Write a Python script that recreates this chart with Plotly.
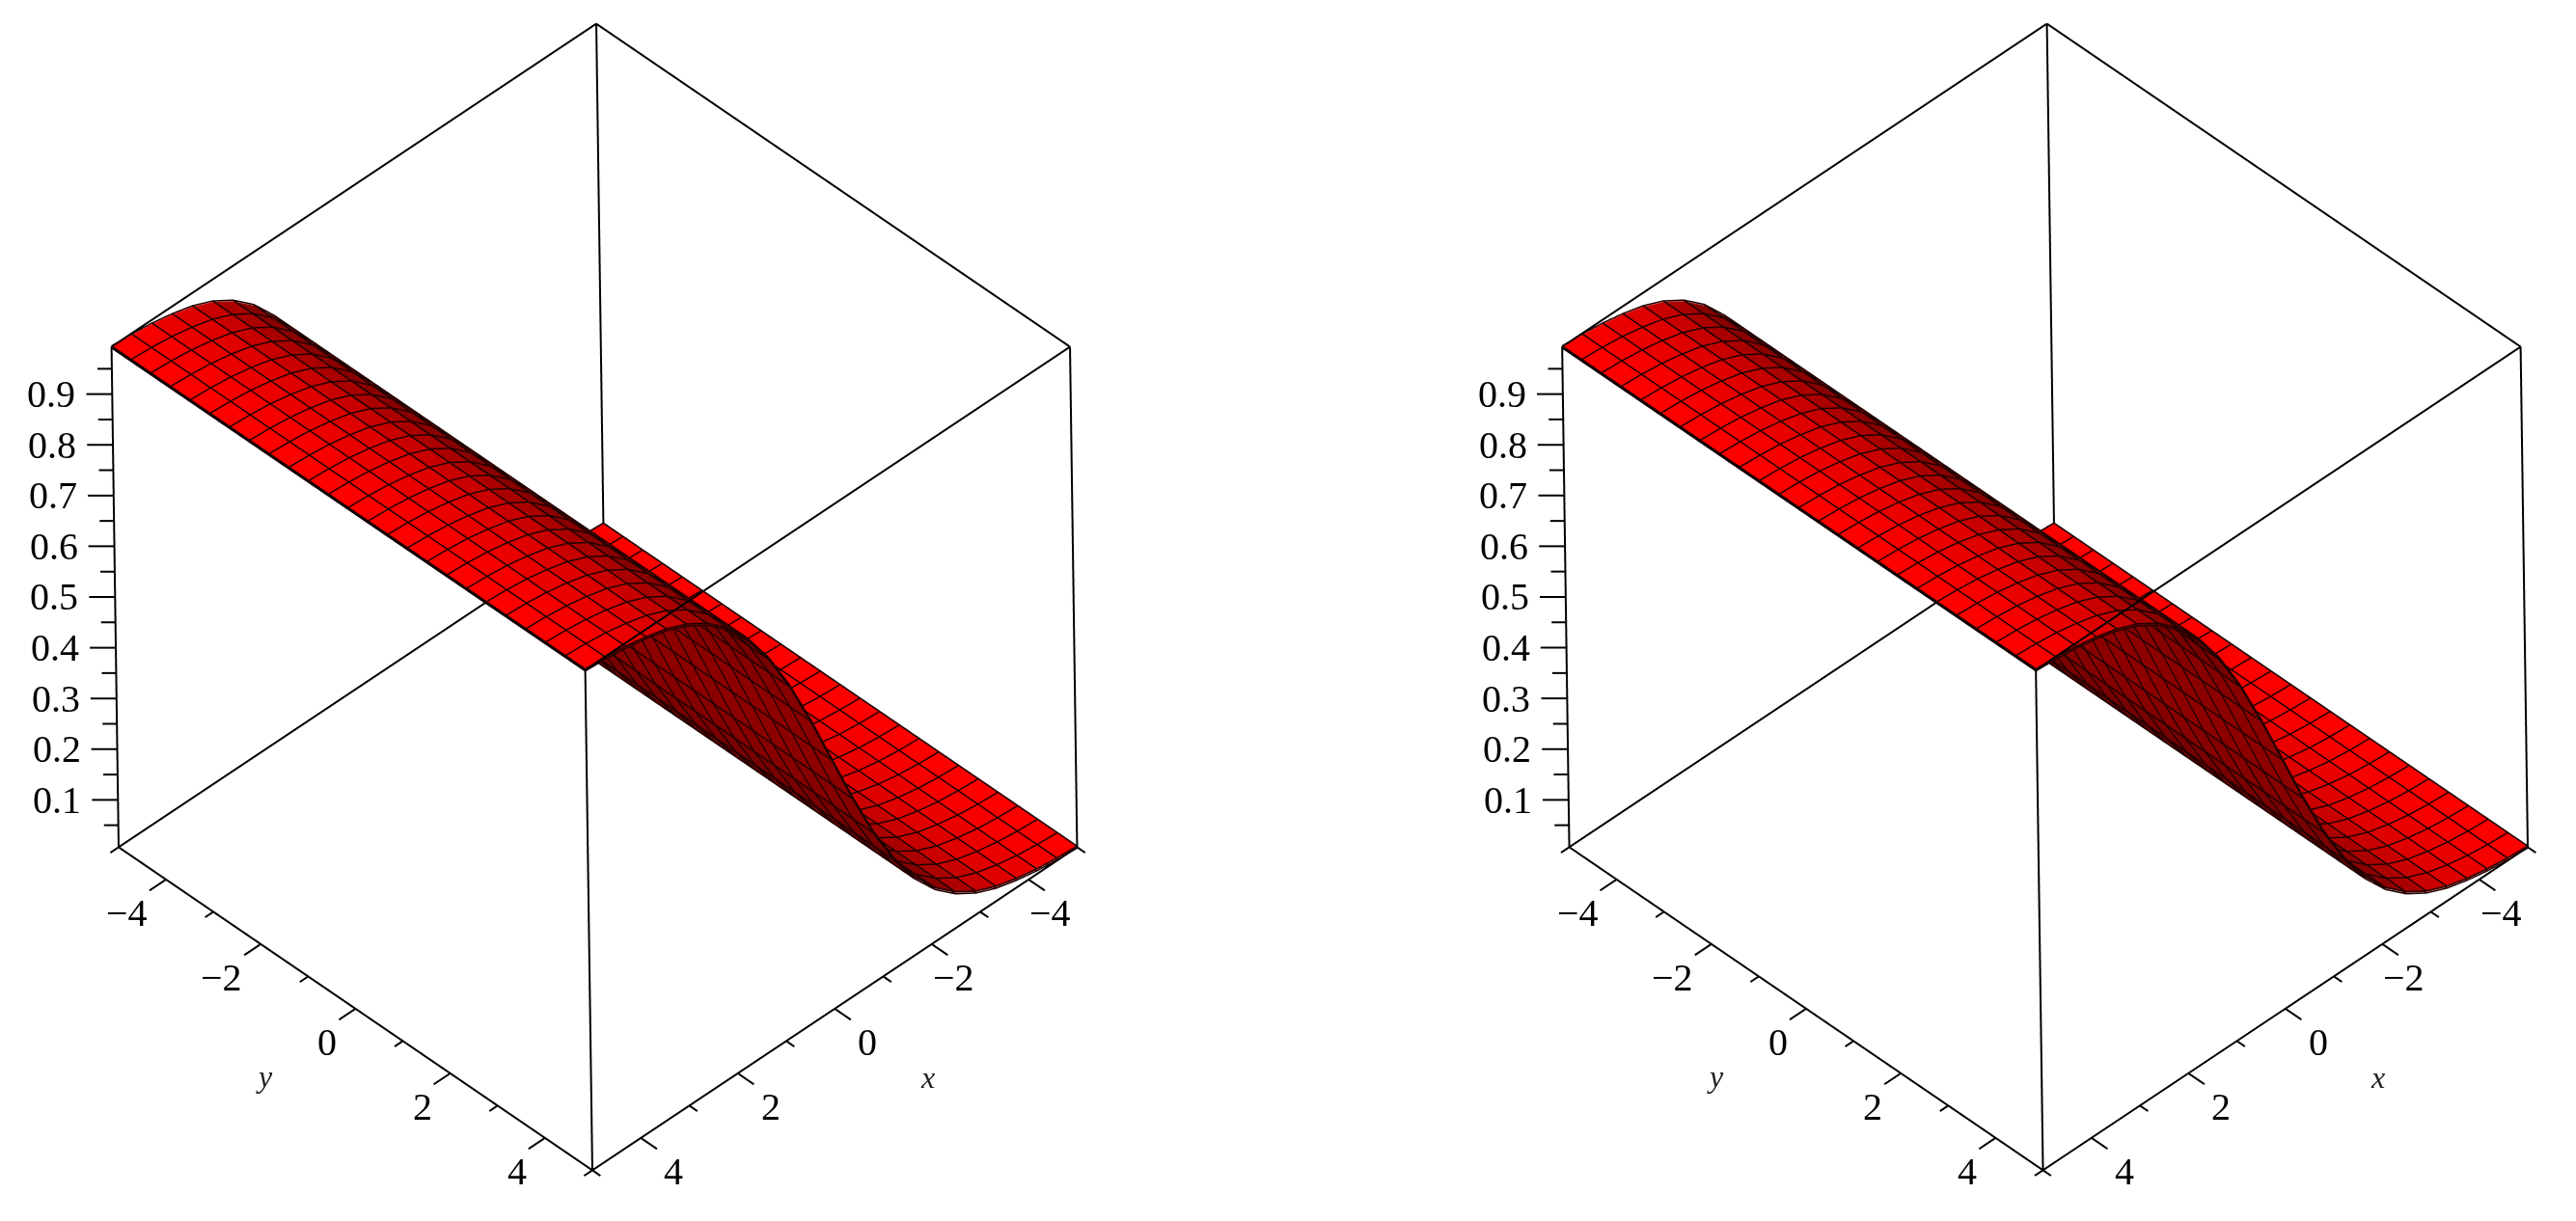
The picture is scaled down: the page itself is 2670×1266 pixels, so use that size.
import numpy as np
import plotly.graph_objects as go

# surface height read along x, it does not change along y
x_grid = [-5.0, -4.583, -4.167, -3.75, -3.333, -2.917, -2.5, -2.083, -1.667, -1.25, -0.833, -0.417, 0.0,
          0.417, 0.833, 1.25, 1.667, 2.083, 2.5, 2.917, 3.333, 3.75, 4.167, 4.583, 5.0]
y_grid = x_grid
z_profile = [0.007, 0.010, 0.015, 0.023, 0.034, 0.051, 0.076, 0.111, 0.159, 0.223, 0.303, 0.397, 0.500,
             0.603, 0.697, 0.777, 0.841, 0.889, 0.924, 0.949, 0.966, 0.977, 0.985, 0.990, 0.993]

major_ticks = [-4, -2, 0, 2, 4]
minor_ticks = [-5, -3, -1, 1, 3, 5]
z_major = [0.1, 0.2, 0.3, 0.4, 0.5, 0.6, 0.7, 0.8, 0.9]
z_minor = [0.05, 0.15, 0.25, 0.35, 0.45, 0.55, 0.65, 0.75, 0.85, 0.95]
major_labels = ['\u22124', '\u22122', '0', '2', '4']
z_labels = ['0.1', '0.2', '0.3', '0.4', '0.5', '0.6', '0.7', '0.8', '0.9']

xmin, xmax = -5, 5
zmin, zmax = 0.0067, 0.9933
pad = 0.4  # room for the ticks outside the box
zpad = 0.02  # lines sitting right on the axis range get clipped
box_scale = 1.135  # orthographic size only follows the aspect ratio
grid_lift = 0.002
font = dict(family='Liberation Serif', size=40, color='black')

# camera read from the box corners
eye_dir = np.array([0.511, 0.533, 0.674])
up_dir = [-0.477, -0.477, 0.739]
right_dir = np.array([-0.715, 0.698, -0.01])


def box_lines():
    xs, ys, zs = [], [], []
    def seg(a, b):
        xs.extend([a[0], b[0], None])
        ys.extend([a[1], b[1], None])
        zs.extend([a[2], b[2], None])
    for p in [xmin, xmax]:
        for q in [xmin, xmax]:
            seg((p, q, zmin), (p, q, zmax))
            seg((p, xmin, zmin if q == xmin else zmax), (p, xmax, zmin if q == xmin else zmax))
            seg((xmin, p, zmin if q == xmin else zmax), (xmax, p, zmin if q == xmin else zmax))
    return xs, ys, zs


def tick_lines():
    xs, ys, zs = [], [], []
    def seg(a, b):
        xs.extend([a[0], b[0], None])
        ys.extend([a[1], b[1], None])
        zs.extend([a[2], b[2], None])
    for t, ln in [(v, 0.34) for v in major_ticks] + [(v, 0.17) for v in minor_ticks]:
        seg((xmax, t, zmin), (xmax + ln, t, zmin))
        seg((t, xmax, zmin), (t, xmax + ln, zmin))
    for t, ln in [(v, 0.27) for v in z_major] + [(v, 0.15) for v in z_minor]:
        seg((xmax, xmin, t), (xmax + ln, xmin - ln, t))
    return xs, ys, zs


def grid_lines():
    # mesh lines on both sides of the sheet, surface contours only come out 1px wide
    xs, ys, zs = [], [], []
    for lift in [grid_lift, -grid_lift]:
        for yv in y_grid:
            xs.extend(x_grid + [None])
            ys.extend([yv] * len(x_grid) + [None])
            zs.extend([v + lift for v in z_profile] + [None])
        for xv, zv in zip(x_grid, z_profile):
            xs.extend([xv] * len(y_grid) + [None])
            ys.extend(y_grid + [None])
            zs.extend([zv + lift] * len(y_grid) + [None])
    return xs, ys, zs


def labels():
    out = []
    for t, s in zip(major_ticks, major_labels):
        out.append(dict(x=t, y=xmax, z=zmin, text=s, xanchor='right', yanchor='middle',
                        xshift=46, yshift=-35, showarrow=False, font=font))
        out.append(dict(x=xmax, y=t, z=zmin, text=s, xanchor='right', yanchor='middle',
                        xshift=-17, yshift=-35, showarrow=False, font=font))
    for t, s in zip(z_major, z_labels):
        out.append(dict(x=xmax, y=xmin, z=t, text=s, xanchor='right', yanchor='middle',
                        xshift=-36, yshift=0, showarrow=False, font=font))
    out.append(dict(x=0, y=xmax, z=zmin, text='<i>x</i>', xshift=96, yshift=-71, showarrow=False,
                    font=dict(family='Liberation Serif', size=32, color='#222222')))
    out.append(dict(x=xmax, y=0, z=zmin, text='<i>y</i>', xshift=-94, yshift=-70, showarrow=False,
                    font=dict(family='Liberation Serif', size=32, color='#222222')))
    return out


def scene_layout(domain_x, eye_dist, center_shift):
    ax = dict(visible=False, showspikes=False)
    c = right_dir * center_shift
    side = box_scale * (xmax - xmin + 2 * pad) / (xmax - xmin)
    return dict(
        domain=dict(x=domain_x, y=[28 / 1266, 1]),
        xaxis=dict(range=[xmin - pad, xmax + pad], **ax),
        yaxis=dict(range=[xmin - pad, xmax + pad], **ax),
        zaxis=dict(range=[zmin - zpad, zmax + zpad], **ax),
        aspectmode='manual',
        aspectratio=dict(x=side, y=side, z=box_scale * (zmax - zmin + 2 * zpad) / (zmax - zmin)),
        dragmode='orbit',
        camera=dict(
            projection=dict(type='orthographic'),
            eye=dict(x=eye_dir[0] * eye_dist + c[0], y=eye_dir[1] * eye_dist + c[1], z=eye_dir[2] * eye_dist + c[2]),
            center=dict(x=c[0], y=c[1], z=c[2]),
            up=dict(x=up_dir[0], y=up_dir[1], z=up_dir[2]),
        ),
        annotations=labels(),
    )


z_surface = np.tile(z_profile, (len(y_grid), 1))
box_x, box_y, box_z = box_lines()
tick_x, tick_y, tick_z = tick_lines()
grid_x, grid_y, grid_z = grid_lines()

fig = go.Figure()
for scene_name in ['scene', 'scene2']:
    fig.add_trace(go.Surface(
        x=x_grid, y=y_grid, z=z_surface, scene=scene_name,
        colorscale=[[0, '#ff0000'], [1, '#ff0000']], showscale=False,
        lighting=dict(ambient=0.34, diffuse=1.0, specular=0, roughness=1, fresnel=0),
        lightposition=dict(x=2200, y=2200, z=-9500),
        hoverinfo='skip',
    ))
    fig.add_trace(go.Scatter3d(x=grid_x, y=grid_y, z=grid_z, mode='lines', scene=scene_name,
                               line=dict(color='#200000', width=3), hoverinfo='skip', showlegend=False))
    fig.add_trace(go.Scatter3d(x=box_x, y=box_y, z=box_z, mode='lines', scene=scene_name,
                               line=dict(color='black', width=4), hoverinfo='skip', showlegend=False))
    fig.add_trace(go.Scatter3d(x=tick_x, y=tick_y, z=tick_z, mode='lines', scene=scene_name,
                               line=dict(color='black', width=4), hoverinfo='skip', showlegend=False))

fig.update_layout(
    width=2670, height=1266,
    margin=dict(l=0, r=0, t=0, b=0),
    paper_bgcolor='white',
    showlegend=False,
    scene=scene_layout([0, 1232 / 2670], 6.0, 0),
    scene2=scene_layout([1438 / 2670, 1], 6.0, -0.106),
)

fig.write_html("out.html", post_script="document.body.style.margin='0';", config=dict(displayModeBar=False))
